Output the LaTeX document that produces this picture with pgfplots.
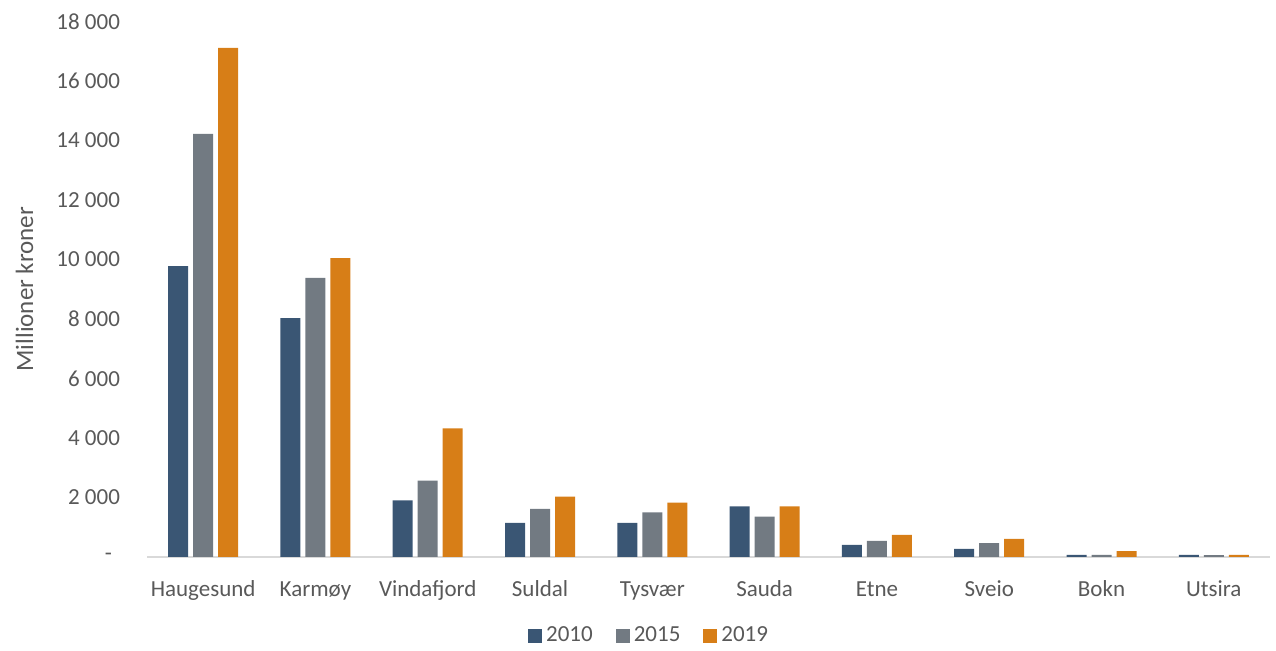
\documentclass[border=0pt]{standalone}
\usepackage{fontspec}
\setmainfont{Carlito}
\usepackage{pgfplots}
\pgfplotsset{compat=1.18}
\definecolor{c10}{HTML}{3A5674}
\definecolor{c15}{HTML}{727A82}
\definecolor{c19}{HTML}{D77E17}
\definecolor{txt}{HTML}{595959}
\definecolor{axl}{HTML}{D9D9D9}
\newcommand\cf{\fontsize{11.5}{13.8}\selectfont}
\begin{document}
\begin{tikzpicture}
\path[use as bounding box] (-73.5pt,-47pt) rectangle ++(638pt,325.5pt);
\begin{axis}[
  at={(0,0)}, anchor=south west,
  scale only axis,
  width=561.5pt, height=267.75pt,
  xmin=-0.5, xmax=9.5,
  ymin=0, ymax=18000,
  scaled y ticks=false,
  axis x line*=bottom,
  axis y line=none,
  x axis line style={draw=axl, line width=1pt, -},
  xtick={0,1,2,3,4,5,6,7,8,9},
  xticklabels={Haugesund,Karmøy,Vindafjord,Suldal,Tysvær,Sauda,Etne,Sveio,Bokn,Utsira},
  major tick length=0pt,
  xticklabel style={font=\cf, text=txt, anchor=base, yshift=-19.8pt},
  ybar, bar width=10pt,
  legend style={at={(0.448,-0.1475)}, anchor=center, draw=none, legend columns=-1,
    font=\cf, text=txt, /tikz/every even column/.append style={column sep=9.5pt}},
  legend image code/.code={\fill[#1] (0pt,-3.5pt) rectangle (7pt,3.5pt);},
  clip=false,
]
\addplot[draw=none, fill=c10, bar shift=-12.5pt] coordinates {
 (0,9780) (1,8030) (2,1900) (3,1150) (4,1150) (5,1700) (6,410) (7,270) (8,70) (9,70)};
\addplot[draw=none, fill=c15, bar shift=0pt] coordinates {
 (0,14220) (1,9380) (2,2570) (3,1620) (4,1500) (5,1360) (6,540) (7,470) (8,70) (9,60)};
\addplot[draw=none, fill=c19, bar shift=12.5pt] coordinates {
 (0,17110) (1,10050) (2,4320) (3,2030) (4,1830) (5,1700) (6,740) (7,610) (8,200) (9,70)};
\legend{2010,2015,2019}
\end{axis}
\begin{axis}[
  at={(0,0)}, anchor=south west,
  scale only axis,
  width=561.5pt, height=267.75pt,
  xmin=-0.5, xmax=9.5,
  ymin=0, ymax=18000,
  scaled y ticks=false,
  axis x line=none,
  axis y line*=left,
  y axis line style={draw=none},
  major tick length=0pt,
  ytick={0,2000,4000,6000,8000,10000,12000,14000,16000,18000},
  yticklabels={{\makebox[7.5pt][l]{-}},2 000,4 000,6 000,8 000,10 000,12 000,14 000,16 000,18 000},
  yticklabel style={font=\cf, text=txt, xshift=-10pt},
  ylabel={Millioner kroner},
  ylabel style={font=\fontsize{12.5}{15}\selectfont, text=txt, at={(axis description cs:-0.109,0.5)}, anchor=center},
]
\addplot[draw=none] coordinates {(0,0)};
\end{axis}
\end{tikzpicture}
\end{document}
